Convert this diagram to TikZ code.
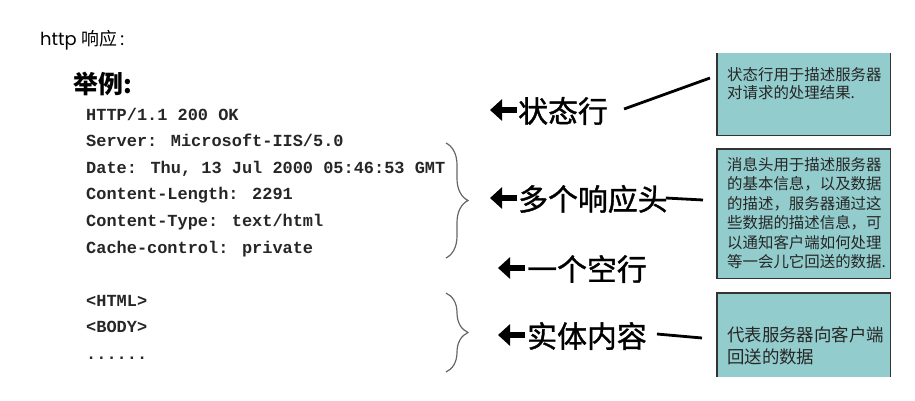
\documentclass[tikz,border=0pt]{standalone}
\usepackage{fontspec}
\setmainfont{Liberation Sans}
\newfontfamily\cjk{Noto Sans CJK SC}
\newfontfamily\cjklbl[FakeBold=1.2]{Noto Sans CJK SC}
\newfontfamily\codefont{Liberation Mono}
\newfontfamily\gothic{Poppins}
\usetikzlibrary{decorations.pathreplacing,arrows.meta}
\definecolor{boxfill}{RGB}{147,204,204}
\tikzset{
  code/.style={anchor=base west, inner sep=0, text=black!85,
    font=\codefont\bfseries\fontsize{17}{20}\selectfont},
  lbl/.style={anchor=west, inner sep=0, font=\cjklbl\fontsize{30}{34}\selectfont},
  bigarr/.style={line width=6bp, -{Triangle[width=21bp,length=12bp]}},
  infobox/.style={fill=boxfill, inner sep=0, anchor=north west, minimum width=173bp},
  side/.style={draw=black!80, line width=1.4bp},
  boxtext/.style={anchor=north west, inner sep=0, align=left, text=black!85},
  brace/.style={decorate, decoration={brace, amplitude=22bp}, draw=black!60, line width=1.2bp},
  link/.style={line width=2.8bp, black}
}
\begin{document}
\begin{tikzpicture}[x=1bp,y=-1bp]
\useasboundingbox (0,0) rectangle (915,400);
% title
\node[anchor=west, inner sep=0, font=\fontsize{18}{20}\selectfont] (title) at (40,40)
  {{\gothic http }{\cjk 响应}{\gothic\,:}};
\node[anchor=west, inner sep=0, font=\cjk\bfseries\fontsize{25}{26}\selectfont] (ex) at (73,84) {举例:};
% code
\node[code] (c1) at (86,120) {HTTP/1.1 200 OK};
\node[code] (c2) at (86,146.6) {Server: Microsoft-IIS/5.0};
\node[code] (c3) at (86,173.2) {Date: Thu, 13 Jul 2000 05:46:53 GMT};
\node[code] (c4) at (86,199.8) {Content-Length: 2291};
\node[code] (c5) at (86,226.4) {Content-Type: text/html};
\node[code] (c6) at (86,253) {Cache-control: private};
\node[code] (c7) at (86,306.2) {<HTML>};
\node[code] (c8) at (86,332.8) {<BODY>};
\node[code] (c9) at (86,359.4) {......};
% braces
\draw[brace] (446,143) -- (446,258);
\draw[brace] (446,293) -- (446,372);
% labels
\node[lbl] (l1) at (518,111) {状态行};
\node[lbl] (l2) at (518,199) {多个响应头};
\node[lbl] (l3) at (527,269) {一个空行};
\node[lbl] (l4) at (527,336) {实体内容};
\draw[bigarr] ([xshift=-1bp,yshift=1bp]l1.west) -- ++(-27,0);
\draw[bigarr] ([xshift=-1bp,yshift=1bp]l2.west) -- ++(-27,0);
\draw[bigarr] ([xshift=-2bp,yshift=1bp]l3.west) -- ++(-27,0);
\draw[bigarr] ([xshift=-2bp,yshift=1bp]l4.west) -- ++(-27,0);
% boxes
\node[infobox, minimum height=82bp] (b1) at (717,53) {};
\node[infobox, minimum height=129bp] (b2) at (717,149) {};
\node[infobox, minimum height=84bp] (b3) at (717,293) {};
\draw[side] (b1.north west) -- (b1.south west) -- (b1.south east) -- (b1.north east);
\draw[side] (b2.north west) rectangle (b2.south east);
\draw[side] (b3.south west) -- (b3.north west) -- (b3.north east) -- (b3.south east);
\node[boxtext, font=\cjk\fontsize{15.5}{18.5}\selectfont] (t1) at (727,67)
  {状态行用于描述服务器\\对请求的处理结果.};
\node[boxtext, font=\cjk\fontsize{15.5}{19.6}\selectfont] (t2) at (727,157)
  {消息头用于描述服务器\\的基本信息，以及数据\\的描述，服务器通过这\\些数据的描述信息，可\\以通知客户端如何处理\\等一会儿它回送的数据.};
\node[boxtext, font=\cjk\fontsize{17.5}{23}\selectfont] (t3) at (727,326)
  {代表服务器向客户端\\回送的数据};
% connectors
\coordinate (e1) at (710,78);
\coordinate (e2) at (703,200);
\coordinate (e4) at (702,338);
\draw[link] ([xshift=16bp,yshift=2bp]l1.east) -- (e1);
\draw[link] ([xshift=-2bp,yshift=1bp]l2.east) -- (e2);
\draw[link] ([xshift=10bp,yshift=2bp]l4.east) -- (e4);
\end{tikzpicture}
\end{document}
